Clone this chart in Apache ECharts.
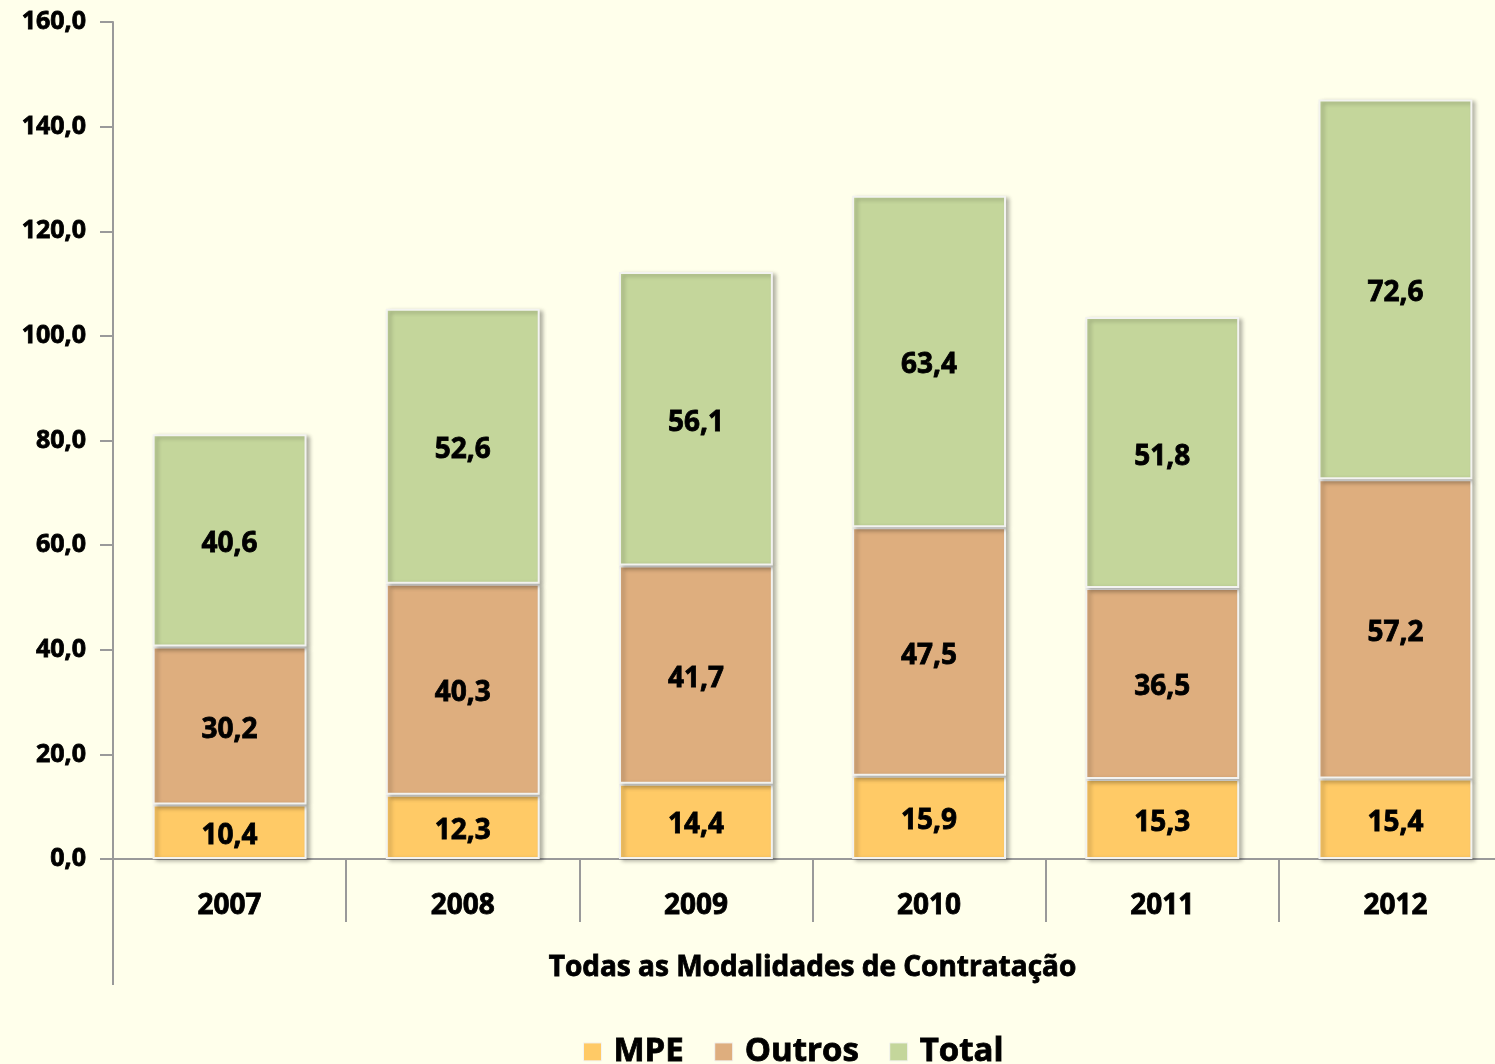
<!DOCTYPE html>
<html>
<head>
<meta charset="utf-8">
<script src="https://cdn.jsdelivr.net/npm/echarts@6/dist/echarts.min.js"></script>
<style>
    html, body { margin: 0; padding: 0; background: #FFFFEB; }
    #chart { width: 1495px; height: 1064px; }
</style>
</head>
<body>
<div id="chart"></div>
<script>
// dados
const anos = ['2007', '2008', '2009', '2010', '2011', '2012'];
const mpe = [10.4, 12.3, 14.4, 15.9, 15.3, 15.4];
const outros = [30.2, 40.3, 41.7, 47.5, 36.5, 57.2];
const total = [40.6, 52.6, 56.1, 63.4, 51.8, 72.6];
const grupo = ['Todas as Modalidades de Contratação'];

const fonte = '"Open Sans", Lato, sans-serif';
const cinza = '#9a9a9a';

function virgula(v) {
    return v.toFixed(1).replace('.', ',');
}

// texto bem escuro e pesado, como no original
function texto(tam, extra) {
    return Object.assign({
        color: '#000',
        fontFamily: fonte,
        fontWeight: 'bold',
        fontSize: tam,
        textBorderColor: '#000',
        textBorderWidth: 0.8
    }, extra || {});
}

function serie(nome, dados, cor) {
    return {
        name: nome,
        type: 'bar',
        stack: 'soma',
        barWidth: '66%',
        data: dados,
        itemStyle: {
            color: cor,
            borderColor: '#f3f3f0',
            borderWidth: 2,
            shadowColor: 'rgba(0,0,0,0.28)',
            shadowBlur: 4,
            shadowOffsetX: 3,
            shadowOffsetY: 2
        },
        label: texto(28, {
            show: true,
            position: 'inside',
            offset: [0, 4],
            formatter: function(p) { return virgula(p.value); }
        })
    };
}

const chart = echarts.init(document.getElementById('chart'));
chart.setOption({
    backgroundColor: '#FFFFEB',
    animation: false,
    grid: {
        left: 113,
        top: 22,
        right: -17,
        bottom: 205,
        outerBoundsMode: 'none'
    },
    legend: {
        top: 1030,
        left: 578,
        itemWidth: 18,
        itemHeight: 18,
        itemGap: 30,
        icon: 'rect',
        itemStyle: { borderColor: '#f3f3f0', borderWidth: 1 },
        textStyle: texto(33, { padding: [0, 0, 0, 7] }),
        data: ['MPE', 'Outros', 'Total']
    },
    xAxis: [
        {
            type: 'category',
            data: anos,
            axisLine: { lineStyle: { color: cinza, width: 2 } },
            axisTick: { show: true, interval: 0, length: 63, lineStyle: { color: cinza, width: 2 } },
            axisLabel: texto(28, { margin: 33 })
        },
        {
            type: 'category',
            position: 'bottom',
            data: grupo,
            axisLine: { show: false },
            axisTick: { show: true, length: 126, lineStyle: { color: cinza, width: 2 } },
            axisLabel: texto(28, { margin: 95 })
        }
    ],
    yAxis: {
        type: 'value',
        min: 0,
        max: 160,
        interval: 20,
        splitLine: { show: false },
        axisLine: { show: true, lineStyle: { color: cinza, width: 2 } },
        axisTick: { show: true, length: 13, lineStyle: { color: cinza, width: 2 } },
        axisLabel: texto(25, {
            margin: 27,
            formatter: function(v) { return virgula(v); }
        })
    },
    series: [
        serie('MPE', mpe, '#FFCA66'),
        serie('Outros', outros, '#DEAE7E'),
        serie('Total', total, '#C4D69B')
    ]
});

window.addEventListener('resize', function() {
    chart.resize();
});
</script>
</body>
</html>
